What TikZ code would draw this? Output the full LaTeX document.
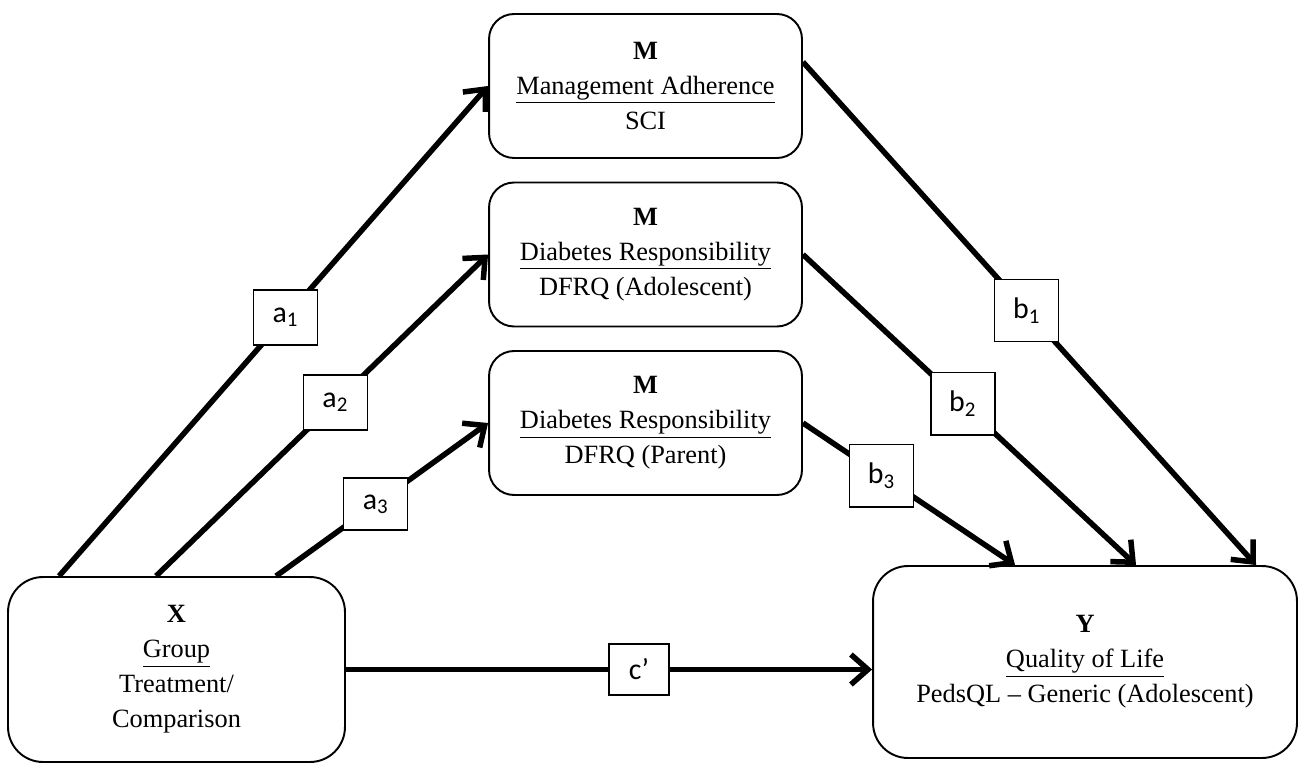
\documentclass[tikz,border=0pt]{standalone}
\usepackage{fontspec}
\setmainfont{Liberation Serif}
\newfontfamily\coeffont{Carlito}
\usetikzlibrary{arrows.meta, calc}

\tikzset{
  var/.style={draw, line width=1.1pt, rounded corners=5mm, align=center, inner sep=0pt,
    font=\fontsize{15}{19.9}\selectfont},
  mbox/.style={var, minimum width=6.26cm, minimum height=2.88cm},
  xybox/.style={var, rounded corners=7mm},
  effect/.style={line width=1.1mm, -{Straight Barb[length=3.4mm, width=6mm]}},
  coef/.style={draw, fill=white, line width=0.8pt, inner sep=0pt,
    minimum width=1.28cm, minimum height=1.1cm, font=\coeffont\fontsize{17}{20}\selectfont},
  bcoef/.style={coef, minimum height=1.25cm}
}

\begin{document}
\begin{tikzpicture}[x=0.02cm, y=-0.02cm]
\useasboundingbox (0,0) rectangle (1300,763);
% mediators
\node[mbox] (m1) at (645.5,86) {\textbf{M}\\\underline{Management Adherence}\\SCI};
\node[mbox] (m2) at (645.5,254.5) {\textbf{M}\\\underline{Diabetes Responsibility}\\DFRQ (Adolescent)};
\node[mbox] (m3) at (645.5,423) {\textbf{M}\\\underline{Diabetes Responsibility}\\DFRQ (Parent)};
% predictor and outcome
\node[xybox, minimum width=6.74cm, minimum height=3.7cm] (xbox) at (176.5,669.5) {\textbf{X}\\\underline{Group}\\Treatment/\\Comparison};
\node[xybox, minimum width=8.48cm, minimum height=3.84cm] (ybox) at (1085,662) {\textbf{Y}\\\underline{Quality of Life}\\PedsQL -- Generic (Adolescent)};
% a paths
\draw[effect] ([xshift=1.04cm]xbox.north west) -- (m1.west) node[coef, pos=0.528] {a\textsubscript{1}};
\draw[effect] ([xshift=2.98cm]xbox.north west) -- (m2.west) node[coef, pos=0.54] {a\textsubscript{2}};
\draw[effect] ([xshift=5.38cm]xbox.north west) -- (m3.west) node[coef, pos=0.47, minimum height=1.04cm] {a\textsubscript{3}};
% b paths
\draw[effect] ([yshift=0.48cm]m1.east) -- ([xshift=7.68cm]ybox.north west) node[bcoef, pos=0.494] {b\textsubscript{1}};
\draw[effect] (m2.east) -- ([xshift=5.28cm]ybox.north west) node[bcoef, pos=0.48] {b\textsubscript{2}};
\draw[effect] (m3.east) -- ([xshift=2.86cm]ybox.north west) node[bcoef, pos=0.37] {b\textsubscript{3}};
% direct path
\draw[effect] (xbox.east) -- (xbox.east -| ybox.west) node[coef, pos=0.557, minimum width=1.2cm, minimum height=1.02cm] {c’};
\end{tikzpicture}
\end{document}
